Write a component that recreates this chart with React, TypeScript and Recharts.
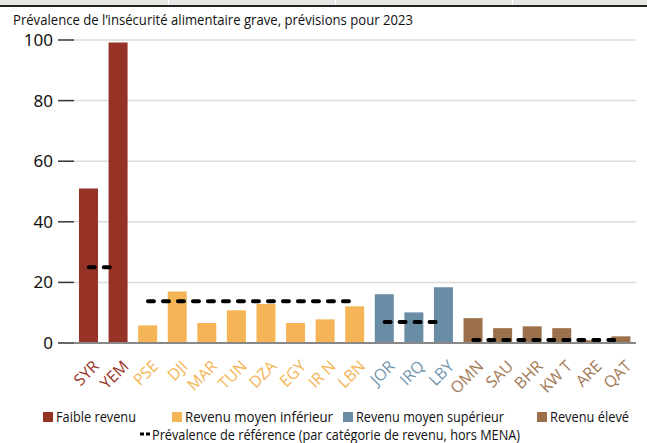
import { useLayoutEffect, useRef, useState } from "react"
import { Bar, CartesianGrid, Cell, ComposedChart, Line, XAxis, YAxis } from "recharts"

const countries = ["SYR", "YEM", "PSE", "DJI", "MAR", "TUN", "DZA", "EGY", "IR N", "LBN", "JOR", "IRQ", "LBY", "OMN", "SAU", "BHR", "KW T", "ARE", "QAT"]
const groups = [0, 0, 1, 1, 1, 1, 1, 1, 1, 1, 2, 2, 2, 3, 3, 3, 3, 3, 3]
const prevalence = [51, 99.2, 5.8, 17, 6.6, 10.8, 12.9, 6.6, 7.8, 12.1, 16.1, 10.1, 18.4, 8.2, 4.9, 5.5, 4.9, 0.9, 2.2]
const benchmarks = [25, 13.8, 6.9, 1.0]

const groupNames = ["Faible revenu", "Revenu moyen inférieur", "Revenu moyen supérieur", "Revenu élevé"]
const barColors = ["#963226", "#F5B556", "#6A8DA6", "#9C704A"]
const labelColors = ["#9a3529", "#F5B556", "#7396ae", "#a27a55"]
const yTicks = [0, 20, 40, 60, 80, 100]

const font = "'Open Sans', 'Noto Sans', sans-serif"

const data = countries.map((c, i) => {
  const row: Record<string, string | number | null> = { country: c, value: prevalence[i] }
  benchmarks.forEach((b, g) => {
    row["ref" + g] = groups[i] === g ? b : null
  })
  return row
})

// squeeze text horizontally to a given width (reference uses a condensed face)
const FitText = ({ text, width, style }: { text: string; width: number; style?: any }) => {
  const ref = useRef<HTMLSpanElement>(null)
  const [scale, setScale] = useState(1)
  useLayoutEffect(() => {
    if (ref.current) {
      const w = ref.current.getBoundingClientRect().width
      if (w > 0) setScale(width / w)
    }
  }, [text, width])
  return (
    <span
      ref={ref}
      style={{
        display: "inline-block",
        whiteSpace: "nowrap",
        transform: `scaleX(${scale})`,
        transformOrigin: "left center",
        ...style,
      }}
    >
      {text}
    </span>
  )
}

const CountryTick = (props: any) => {
  const { x, y, payload, index } = props
  const color = labelColors[groups[index]]
  return (
    <text
      x={x + 7}
      y={y + 12}
      transform={`rotate(-45 ${x + 7} ${y + 12})`}
      textAnchor="end"
      dominantBaseline="central"
      fontSize={16}
      fontFamily={font}
      fill={color}
    >
      {payload.value}
    </text>
  )
}

const legendX = [43, 172, 343, 537]
const legendW = [80, 148, 148, 79]

export default function App() {
  return (
    <div
      style={{
        position: "absolute",
        left: 0,
        top: 0,
        width: 647,
        height: 443,
        background: "#fff",
        fontFamily: font,
        color: "#111",
      }}
    >
      <div style={{ height: 5, background: "#e6e6e2", borderBottom: "2px solid #222", position: "relative" }}>
        {[168, 335, 512].map((x) => (
          <div key={x} style={{ position: "absolute", left: x, top: 0, width: 1, height: 5, background: "#fff" }} />
        ))}
      </div>
      <div style={{ position: "absolute", left: 13, top: 10, fontSize: 15, lineHeight: "18px" }}>
        <FitText text="Prévalence de l’insécurité alimentaire grave, prévisions pour 2023" width={400} />
      </div>
      <div style={{ position: "absolute", left: 0, top: 0 }}>
        <ComposedChart
          width={647}
          height={400}
          data={data}
          margin={{ top: 40, right: 11, left: 0, bottom: 0 }}
          barSize={19}
        >
          <CartesianGrid vertical={false} stroke="#dcdcdc" strokeWidth={1.5} />
          <XAxis
            dataKey="country"
            interval={0}
            height={57}
            tickLine={false}
            axisLine={{ stroke: "#888", strokeWidth: 2 }}
            tick={<CountryTick />}
          />
          <YAxis
            width={74}
            domain={[0, 100]}
            ticks={yTicks}
            axisLine={false}
            tickSize={16}
            tickMargin={5}
            tickLine={{ stroke: "#333", strokeWidth: 1.5 }}
            tick={{ fontSize: 17, fill: "#111", fontFamily: "'Noto Sans', sans-serif" }}
          />
          <Bar dataKey="value" isAnimationActive={false}>
            {data.map((_, i) => (
              <Cell key={i} fill={barColors[groups[i]]} />
            ))}
          </Bar>
          {benchmarks.map((_, g) => (
            <Line
              key={g}
              dataKey={"ref" + g}
              type="linear"
              stroke="#000"
              strokeWidth={4}
              strokeDasharray="6 9"
              strokeLinecap="round"
              dot={false}
              activeDot={false}
              connectNulls={false}
              isAnimationActive={false}
            />
          ))}
        </ComposedChart>
      </div>
      <div style={{ position: "absolute", top: 408, left: 0, width: 647, fontSize: 14, lineHeight: "17px" }}>
        {groupNames.map((name, g) => (
          <div
            key={name}
            style={{
              position: "absolute",
              left: legendX[g],
              top: 0,
              display: "flex",
              alignItems: "center",
              whiteSpace: "nowrap",
            }}
          >
            <span style={{ width: 10, height: 10, background: barColors[g], marginRight: 3, display: "inline-block" }} />
            <FitText text={name} width={legendW[g]} />
          </div>
        ))}
        <div style={{ position: "absolute", left: 140, top: 17.5, display: "flex", alignItems: "center", whiteSpace: "nowrap" }}>
          <svg width={12} height={10}>
            <line x1={0} y1={5} x2={10} y2={5} stroke="#000" strokeWidth={3} strokeDasharray="4 2" />
          </svg>
          <FitText text="Prévalence de référence (par catégorie de revenu, hors MENA)" width={368} />
        </div>
      </div>
    </div>
  )
}
